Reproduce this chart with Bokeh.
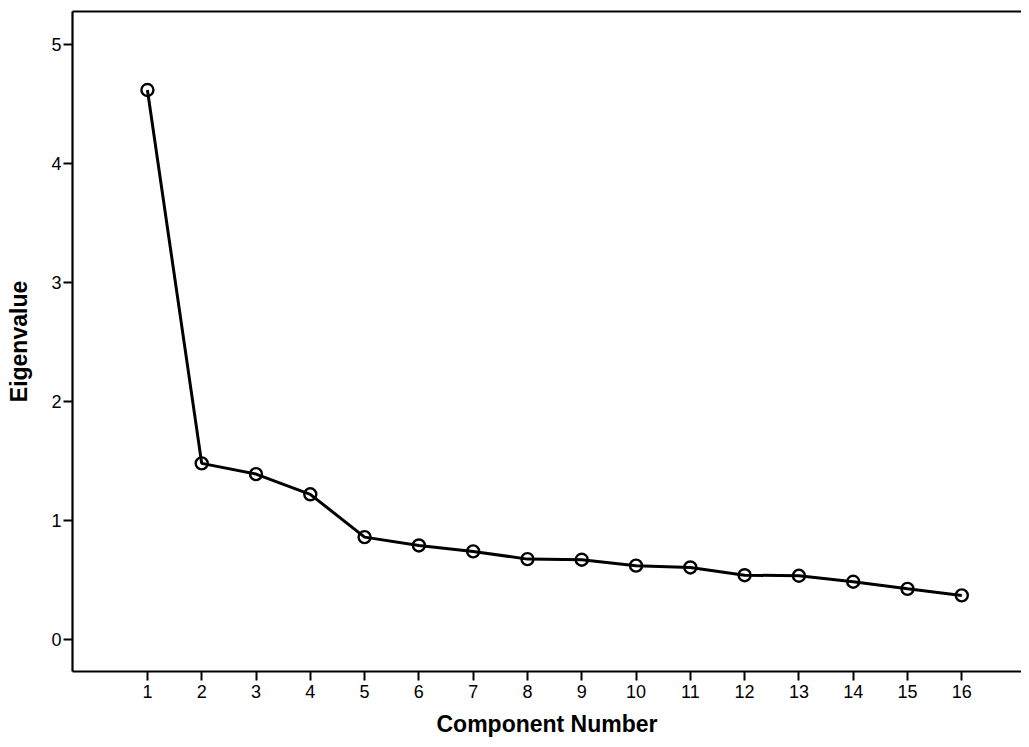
from bokeh.plotting import figure
from bokeh.models import Range1d, FixedTicker, LinearAxis
from bokeh.embed import file_html
from bokeh.resources import INLINE

components = list(range(1, 17))
eigenvalues = [4.62, 1.48, 1.39, 1.22, 0.86, 0.79, 0.74, 0.675, 0.67, 0.62,
               0.605, 0.54, 0.535, 0.485, 0.425, 0.37]
x_ticks = list(range(1, 17))
y_ticks = [0, 1, 2, 3, 4, 5]

p = figure(width=1021, height=739, output_backend="svg", toolbar_location=None,
           x_range=Range1d(-0.38, 17.1), y_range=Range1d(-0.27, 5.28),
           min_border_left=72, min_border_top=11, min_border_right=0, min_border_bottom=67)
p.grid.visible = False
p.outline_line_color = None
p.background_fill_color = "white"

p.line(components, eigenvalues, line_color="black", line_width=3)
p.scatter(components, eigenvalues, marker="circle", size=12, fill_alpha=0,
          line_color="black", line_width=2.4)

for ax in (p.xaxis[0], p.yaxis[0]):
    ax.axis_line_color = "black"
    ax.axis_line_width = 2.2
    ax.major_tick_line_color = "black"
    ax.major_tick_line_width = 2
    ax.major_tick_out = 9
    ax.major_tick_in = 0
    ax.minor_tick_line_color = None
    ax.major_label_text_font = "Liberation Sans"
    ax.major_label_text_font_size = "18px"
    ax.major_label_text_color = "black"
    ax.axis_label_text_font = "Liberation Sans"
    ax.axis_label_text_font_style = "bold"
    ax.axis_label_text_font_size = "23px"
    ax.axis_label_text_color = "black"

p.xaxis[0].ticker = FixedTicker(ticks=x_ticks)
p.yaxis[0].ticker = FixedTicker(ticks=y_ticks)
p.xaxis[0].axis_label = "Component Number"
p.yaxis[0].axis_label = "Eigenvalue"
p.xaxis[0].major_label_standoff = 4
p.xaxis[0].axis_label_standoff = 10
p.yaxis[0].major_label_standoff = 2
p.yaxis[0].axis_label_standoff = 16

top = LinearAxis(ticker=FixedTicker(ticks=[]), axis_line_color="black",
                 axis_line_width=2.2, major_label_text_font_size="0px",
                 minor_tick_line_color=None, major_tick_line_color=None)
p.add_layout(top, "above")

open("out.html", "w").write(file_html(p, INLINE))
